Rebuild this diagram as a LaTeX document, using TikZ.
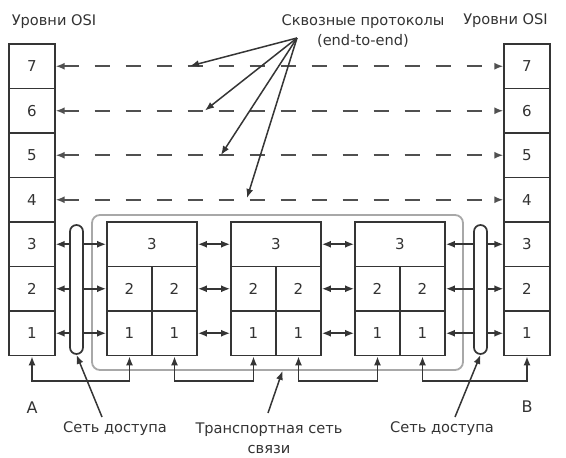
\documentclass[tikz,border=0pt]{standalone}
\usepackage{fontspec}
\setmainfont{DejaVu Sans}
\usetikzlibrary{arrows.meta,calc}
\definecolor{lc}{HTML}{353535}
\definecolor{tc}{HTML}{333333}
\definecolor{dc}{HTML}{505050}
\definecolor{fc}{HTML}{A8A8A8}
\begin{document}
\begin{tikzpicture}[x=1pt,y=-1pt,
  txt/.style={font=\fontsize{14.6}{20}\selectfont, text=tc, inner sep=0pt},
  cell/.style={draw=lc, line width=1.7pt, minimum height=44.5pt, inner sep=0pt,
     font=\fontsize{15}{16}\selectfont, text=tc},
  osi/.style={cell, minimum width=45.5pt},
  half/.style={cell, minimum width=45pt},
  full/.style={cell, minimum width=90pt},
  tipx/.style={{Latex[length=9pt,width=7pt]}-{Latex[length=9pt,width=7pt]}},
  link/.style={draw=lc, line width=1.6pt, tipx},
  dsh/.style={draw=dc, line width=2pt, dash pattern=on 15pt off 16pt, tipx},
  ptr/.style={draw=lc, line width=1.5pt, -{Latex[length=9pt,width=7pt]}},
  oval/.style={draw=lc, fill=white, line width=1.7pt, minimum width=13pt,
     minimum height=129pt, rounded corners=6.5pt, inner sep=0pt},
  frame/.style={draw=fc, line width=1.8pt, rounded corners=8pt, inner sep=0pt}
]
\useasboundingbox (0,0) rectangle (566,458);

% OSI stacks
\foreach \k/\y in {7/66.25,6/110.75,5/155.25,4/199.75,3/244.25,2/288.75,1/333.25}{
  \node[osi] (lA\k) at (32,\y) {\k};
  \node[osi] (rB\k) at (527,\y) {\k};
}

% transport frame
\node[frame, minimum width=371pt, minimum height=155pt] (frm) at (277.5,292.5) {};

% intermediate nodes
\foreach \i/\L in {1/107,2/231,3/355}{
  \node[full] (n\i t) at (\L+45,244.25) {3};
  \node[half] (n\i a2) at (\L+22.5,288.75) {2};
  \node[half] (n\i b2) at (\L+67.5,288.75) {2};
  \node[half] (n\i a1) at (\L+22.5,333.25) {1};
  \node[half] (n\i b1) at (\L+67.5,333.25) {1};
}

% end-to-end dashed
\foreach \k in {7,6,5,4}{
  \draw[dsh] (lA\k.east) -- (rB\k.west);
}

% access links
\draw[link] (lA3.east) -- (n1t.west);
\draw[link] (lA2.east) -- (n1a2.west);
\draw[link] (lA1.east) -- (n1a1.west);
\draw[link] (n3t.east) -- (rB3.west);
\draw[link] (n3b2.east) -- (rB2.west);
\draw[link] (n3b1.east) -- (rB1.west);

% node-to-node links
\foreach \i/\j in {1/2,2/3}{
  \draw[link] (n\i t.east) -- (n\j t.west);
  \draw[link] (n\i b2.east) -- (n\j a2.west);
  \draw[link] (n\i b1.east) -- (n\j a1.west);
}

% access network ovals
\node[oval] (accL) at (76.5,289.5) {};
\node[oval] (accR) at (480.5,289.5) {};

% bottom physical connectors
\coordinate (bus) at (0,381);
\draw[link] (lA1.south) -- (lA1.south |- bus) -| (n1a1.south);
\draw[link] (n1b1.south) -- (n1b1.south |- bus) -| (n2a1.south);
\draw[link] (n2b1.south) -- (n2b1.south |- bus) -| (n3a1.south);
\draw[link] (n3b1.south) -- (n3b1.south |- bus) -| (rB1.south);

% labels
\node[txt] (hdL) at (54,22) {Уровни OSI};
\node[txt] (hdR) at (505.5,21) {Уровни OSI};
\node[txt, align=center] (e2e) at (363,31) {Сквозные протоколы\\(end-to-end)};
\node[txt, font=\fontsize{16}{20}\selectfont] (labA) at (32,408) {A};
\node[txt, font=\fontsize{16}{20}\selectfont] (labB) at (527,407) {B};
\node[txt] (sdL) at (115,429) {Сеть доступа};
\node[txt] (sdR) at (442,429) {Сеть доступа};
\node[txt, align=center] (tsn) at (269,438) {Транспортная сеть\\связи};

% pointers
\coordinate (hub) at (297,38);
\coordinate (p7) at (190,66);
\coordinate (p6) at (205,110.5);
\coordinate (p5) at (221,155);
\coordinate (p4) at (247,198);
\foreach \p in {p7,p6,p5,p4}{ \draw[ptr] (hub) -- (\p); }
\coordinate (sdLs) at (102,417);
\coordinate (sdRs) at (455,417);
\coordinate (tsns) at (268,413);
\draw[ptr] (sdLs) -- (accL.south);
\draw[ptr] (sdRs) -- (accR.south);
\draw[ptr] (tsns) -- ($(frm.south)+(5,0)$);
\end{tikzpicture}
\end{document}
